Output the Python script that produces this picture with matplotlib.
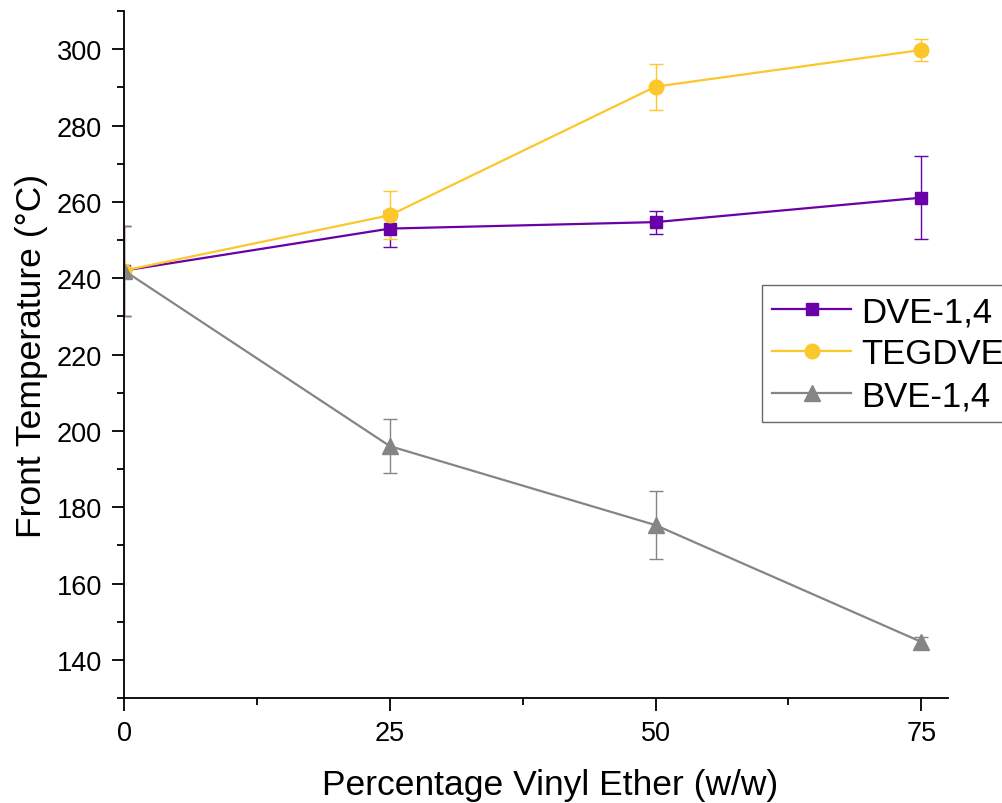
from matplotlib import pyplot as plt
from matplotlib.ticker import MultipleLocator

plt.rcParams['font.family'] = ['Liberation Sans', 'DejaVu Sans']

x = [0, 25, 50, 75]

dve = [242.0, 253.0, 254.7, 261.1]
dve_err = [11.8, 4.7, 3.0, 10.8]

teg = [242.0, 256.5, 290.2, 299.8]
teg_err = [11.8, 6.3, 6.0, 3.0]

bve = [242.0, 196.0, 175.3, 144.7]
bve_err = [11.8, 7.0, 9.0, 1.4]

labels = ["DVE-1,4", "TEGDVE", "BVE-1,4"]
colors = ["#6a00a8", "#fcc72a", "#858585"]


def main():
    fig = plt.figure(figsize=(10.02, 8.04), dpi=100)
    ax = fig.add_axes([0.1238, 0.1306, 0.8222, 0.8544])

    series = [(dve, dve_err, 's', 9), (teg, teg_err, 'o', 10.5), (bve, bve_err, '^', 11)]
    handles = []
    for i in range(len(series)):
        y, err, m, ms = series[i]
        cont = ax.errorbar(x, y, yerr=err, color=colors[i], marker=m, markersize=ms,
                           linewidth=1.6, elinewidth=1.0, capsize=4.7, capthick=1.0,
                           label=labels[i])
        handles.append(cont[0])

    ax.set_xlim(0, 77.5)
    ax.set_ylim(130, 310)
    ax.set_xticks([0, 25, 50, 75])
    ax.xaxis.set_minor_locator(MultipleLocator(12.5))
    ax.yaxis.set_major_locator(MultipleLocator(20))
    ax.yaxis.set_minor_locator(MultipleLocator(10))

    for s in ['top', 'right']:
        ax.spines[s].set_visible(False)
    for s in ['left', 'bottom']:
        ax.spines[s].set_linewidth(1.3)
    ax.tick_params(which='major', direction='out', length=9, width=1.3, labelsize=19.5, pad=7)
    ax.tick_params(which='minor', direction='out', length=5, width=1.3)

    ax.set_xlabel("Percentage Vinyl Ether (w/w)", fontsize=25.5, labelpad=16)
    ax.set_ylabel("Front Temperature (\u00b0C)", fontsize=25.5, labelpad=6)
    ax.xaxis.label.set_x(0.517)

    leg = ax.legend(handles, labels, loc='upper left', bbox_to_anchor=(0.7605, 0.644),
                    bbox_transform=fig.transFigure, fontsize=25,
                    frameon=True, fancybox=False, handlelength=2.25,
                    handletextpad=0.3, borderpad=0.3, labelspacing=0.25,
                    borderaxespad=0)
    leg.get_frame().set_edgecolor('#444444')
    leg.get_frame().set_linewidth(1.0)

    plt.savefig("out.png", dpi=100)


if __name__ == '__main__':
    main()
